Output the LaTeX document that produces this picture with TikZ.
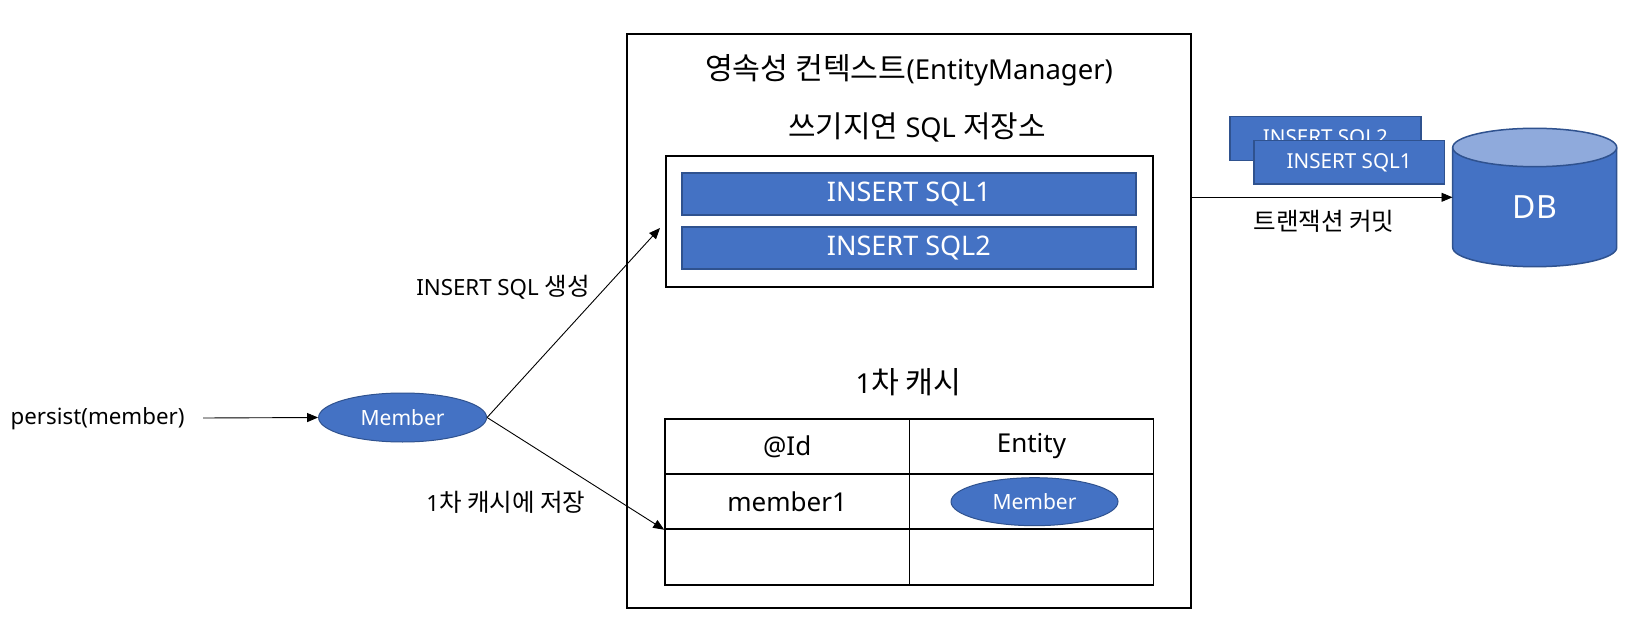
\documentclass[tikz,border=0pt]{standalone}
\usepackage{fontspec}
\setmainfont{Noto Sans}
\newfontfamily\kr[Scale=1.1]{Noto Sans CJK KR}
\usetikzlibrary{arrows.meta,shapes.geometric}
\definecolor{blu}{HTML}{4472C4}
\definecolor{bluedge}{HTML}{2F528F}
\definecolor{bluetop}{HTML}{8FAADC}
\newcommand{\fs}[1]{\fontsize{#1}{#1}\selectfont}
\tikzset{
  frame/.style={draw=black, line width=2pt, inner sep=0pt, fill=white},
  bar/.style={draw=bluedge, line width=1.5pt, fill=blu, text=white, inner sep=0pt, font=\fs{27}},
  cell/.style={draw=black, line width=1.5pt, inner sep=0pt, minimum width=244.3pt, font=\fs{26}},
  memb/.style={ellipse, draw=bluedge, line width=1pt, fill=blu, text=white, inner sep=0pt, font=\fs{21}},
  lbl/.style={inner sep=0pt, font=\fs{22.3}},
  ttl/.style={inner sep=0pt, font=\fs{27.5}},
  arr/.style={-{Triangle[length=11pt,width=9pt]}, line width=0.9pt, black},
}
\begin{document}
\begin{tikzpicture}[x=1pt,y=-1pt]
\useasboundingbox (0,0) rectangle (1636,620);
\fill[white] (0,0) rectangle (1636,620);

% persistence context
\node[frame, minimum width=563.8pt, minimum height=574pt] (ctx) at (908.6,321) {};
\node[ttl] (title) at (909,70) {{\kr 영속성 컨텍스트}(EntityManager)};
\node[ttl, font=\fs{27.2}] (wbtitle) at (917,127) {{\kr 쓰기지연} SQL {\kr 저장소}};
\node[frame, minimum width=487.5pt, minimum height=131pt] (store) at (909.3,221.5) {};
\node[bar, minimum width=453.7pt, minimum height=42pt] (sql1) at (908.9,194) {INSERT SQL1};
\node[bar, minimum width=453.7pt, minimum height=42pt] (sql2) at (908.9,248) {INSERT SQL2};

\node[ttl] (cachetitle) at (908.6,382) {1{\kr 차 캐시}};
\node[cell, minimum height=55pt] (c11) at (787.15,446.5) {@Id};
\node[cell, minimum height=55pt] (c12) at (1031.45,446.5) {Entity};
\node[cell, minimum height=55pt] (c21) at (787.15,501.5) {member1};
\node[cell, minimum height=55pt] (c22) at (1031.45,501.5) {};
\node[cell, minimum height=56pt] (c31) at (787.15,557) {};
\node[cell, minimum height=56pt] (c32) at (1031.45,557) {};
\node[memb, minimum width=167pt, minimum height=48pt] (mem2) at (1034.5,501.7) {Member};

% left side
\node[lbl] (persist) at (97.6,419) {persist(member)};
\node[memb, minimum width=168pt, minimum height=49pt] (mem) at (402.6,417.5) {Member};
\node[lbl] (lblsql) at (503,287) {INSERT SQL {\kr 생성}};
\node[lbl] (lblcache) at (506,502) {1{\kr 차 캐시에 저장}};

\coordinate (pstart) at (203,418);
\coordinate (sqltip) at (660,228);
\draw[arr] (pstart) -- (mem.west);
\draw[arr] (mem.east) -- (sqltip);
\draw[arr] (mem.east) -- (c21.south west);

% right side
\node[bar, font=\fs{20.6}, minimum width=190.7pt, minimum height=44pt] (bk2) at (1325.4,138.7) {INSERT SQL2};
\node[bar, font=\fs{20.6}, minimum width=190.3pt, minimum height=43.3pt] (bk1) at (1349.2,162.4) {INSERT SQL1};

% DB cylinder
\fill[blu] (1452.7,147.5) -- (1452.7,247.5) arc[start angle=180, end angle=360, x radius=82pt, y radius=19.2pt] -- (1616.7,147.5) -- cycle;
\draw[bluedge, line width=1.5pt] (1452.7,147.5) -- (1452.7,247.5) arc[start angle=180, end angle=360, x radius=82pt, y radius=19.2pt] -- (1616.7,147.5);
\draw[bluedge, line width=1.5pt, fill=bluetop] (1534.7,147.5) ellipse [x radius=82pt, y radius=19.2pt];
\node[minimum width=164pt, minimum height=138pt, inner sep=0pt] (db) at (1534.7,197.4) {};
\node[inner sep=0pt, text=white, font=\fs{32}] (dbtext) at (1535,206.7) {DB};

\coordinate (cy) at (0,197.3);
\draw[arr] (ctx.east |- cy) -- (db.west |- cy);
\node[lbl] (commit) at (1324,221.7) {{\kr 트랜잭션 커밋}};
\end{tikzpicture}
\end{document}
